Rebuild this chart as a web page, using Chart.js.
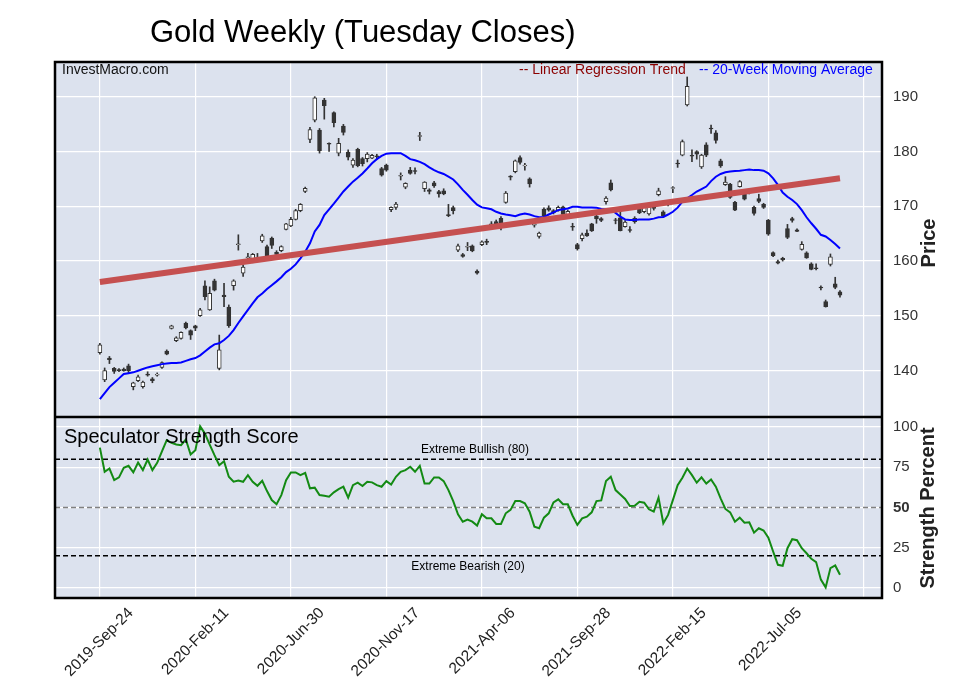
<!DOCTYPE html>
<html>
<head>
<meta charset="utf-8">
<script src="https://cdn.jsdelivr.net/npm/chart.js@4.4.1/dist/chart.umd.min.js"></script>
<style>
  html, body { margin: 0; padding: 0; background: #fff; }
  canvas { display: block; }
</style>
</head>
<body>
<canvas id="goldChart" width="957" height="694"></canvas>
<script>
// x tick labels, one every 20 weekly points
const tickLabels = ['2019-Sep-24', '2020-Feb-11', '2020-Jun-30', '2020-Nov-17',
  '2021-Apr-06', '2021-Sep-28', '2022-Feb-15', '2022-Jul-05', ''];
const priceTicks = [140, 150, 160, 170, 180, 190];
const strengthTicks = [0, 25, 50, 75, 100];
const extremeLevels = [80, 50, 20];

// weekly candles (Tuesday closes)
const opens = [143.3,138.3,142.3,140.45,140.2,140.3,140.9,137.1,138.2,137.1,139.4,138.5,139.2,140.6,143.6,147.7,145.5,145.9,148.7,147.3,
  148.2,150.05,155.5,151.1,156.4,140.4,153.8,151.6,155.5,163.0,157.8,160.6,159.9,160.4,163.7,162.65,164.2,161.6,161.9,165.8,
  166.4,167.6,169.2,172.7,182.2,185.7,183.9,189.4,181.5,187.1,179.7,184.65,179.9,177.5,180.4,178.7,178.7,178.8,179.2,176.9,
  177.5,169.4,169.8,175.5,173.5,176.6,176.5,182.75,173.2,173.0,174.3,172.7,172.8,168.5,169.75,162.0,161.2,162.55,162.8,158.2,
  163.0,163.6,166.2,167.2,167.8,170.7,175.5,176.3,178.9,177.35,175.0,166.55,164.5,169.5,169.7,169.2,169.3,169.9,168.4,166.35,
  163.0,164.1,165.1,166.8,168.2,167.75,170.85,174.3,167.55,167.9,166.3,165.75,167.8,169.5,169.0,168.6,169.9,172.1,169.0,170.55,
  173.25,177.9,179.35,188.5,179.3,180.0,177.2,181.2,184.25,183.4,178.3,173.95,174.05,170.7,173.6,172.5,172.4,169.8,171.4,170.35,
  167.5,161.55,159.9,160.5,165.95,167.75,165.7,162.15,161.5,159.5,158.75,155.25,152.6,159.4,155.85,154.4];
const highs = [145.0,140.5,142.6,140.6,140.4,140.5,141.2,137.9,139.2,138.1,139.8,138.75,139.6,141.6,143.8,148.3,146.2,147.1,148.85,147.45,
  148.3,151.4,156.4,155.3,156.7,146.5,155.95,152.0,156.6,164.8,159.3,161.4,161.4,161.4,164.9,162.9,164.4,161.9,162.8,166.9,
  168.0,169.45,170.5,173.5,184.4,190.0,184.2,189.7,181.6,187.25,182.4,184.95,180.3,178.7,180.6,178.9,179.8,179.5,179.5,177.1,
  177.7,169.9,170.7,176.1,174.3,177.1,177.0,183.5,174.5,173.2,174.55,172.9,173.2,170.35,170.05,163.1,161.4,163.4,162.95,158.4,
  163.7,164.0,167.2,167.5,168.1,172.7,175.6,178.45,179.2,177.85,175.2,167.2,165.3,169.7,170.1,169.4,170.05,170.05,169.3,166.9,
  163.25,165.1,165.7,166.9,168.4,167.95,171.75,174.8,167.8,169.3,167.4,166.3,168.1,169.7,170.05,170.25,170.25,173.3,169.2,170.85,
  173.6,178.45,182.1,193.6,180.3,180.15,179.5,181.6,184.8,183.8,178.6,175.4,174.2,170.9,174.7,172.8,173.1,170.05,172.2,170.55,
  167.6,161.7,160.2,160.7,166.7,168.0,165.9,163.55,161.7,159.7,159.5,155.5,152.9,161.3,157.05,154.6];
const lows = [143.0,138.0,141.3,139.5,139.8,139.9,139.5,136.5,138.0,136.8,139.0,137.8,139.0,140.4,142.9,147.6,145.3,145.75,147.6,145.7,
  147.3,149.9,152.9,151.0,154.55,140.15,151.7,147.9,154.7,162.0,157.2,159.6,159.7,159.9,163.4,160.8,162.3,160.95,161.7,165.7,
  166.3,167.5,169.0,172.5,181.6,185.4,179.7,185.9,180.0,184.5,179.2,183.0,178.45,177.1,177.2,177.35,178.1,178.7,178.6,175.5,
  176.4,169.0,169.45,174.8,173.2,175.85,175.9,182.0,172.7,172.25,173.45,171.65,172.1,168.1,168.6,161.7,160.7,161.9,161.7,157.6,
  162.8,163.0,165.9,166.4,165.7,170.55,174.8,176.1,177.7,176.6,173.5,166.2,164.2,168.1,169.1,168.6,169.1,168.1,167.8,165.6,
  162.0,163.7,164.5,165.4,166.9,167.2,170.4,172.8,166.8,165.5,166.2,165.3,166.9,168.65,168.8,168.4,169.3,171.9,168.0,170.05,
  172.5,177.1,179.2,188.3,178.15,178.6,176.9,179.05,183.3,181.5,177.1,173.8,171.45,169.2,173.5,171.15,172.25,168.4,170.65,169.6,
  164.7,160.8,159.5,160.0,164.1,167.1,165.35,162.0,160.5,158.4,158.4,154.75,151.6,159.1,154.95,153.4];
const closes = [144.7,140.0,142.0,139.85,140.0,140.0,140.0,137.8,138.9,137.9,139.2,138.2,139.35,141.5,143.0,148.2,146.0,147.0,147.8,146.5,
  147.75,151.1,153.5,154.1,154.7,143.8,153.5,148.2,156.4,163.15,158.9,160.8,161.25,160.55,164.6,161.0,162.85,161.2,162.65,166.8,
  167.6,169.2,170.35,173.3,184.0,189.8,180.15,188.35,181.35,185.25,181.5,183.5,178.95,178.45,177.4,177.8,179.55,179.3,179.05,175.7,
  176.6,169.8,170.4,175.65,174.2,176.0,176.35,182.9,174.4,172.7,173.7,172.25,172.25,168.3,169.2,162.8,160.85,162.7,161.85,157.8,
  163.5,163.4,166.8,166.8,166.8,172.4,175.3,178.3,178.0,177.5,174.1,166.7,165.1,168.2,169.3,168.8,169.8,168.5,169.1,166.2,
  162.2,164.8,164.6,165.5,167.7,167.4,171.5,173.0,167.4,165.55,167.1,165.6,167.2,168.8,169.8,170.05,169.6,172.8,168.2,170.4,
  173.4,177.75,181.8,191.9,179.15,179.5,179.35,179.35,184.1,182.0,177.35,174.4,171.6,169.3,174.5,171.3,172.85,168.7,170.9,169.8,
  164.9,161.0,159.6,160.2,164.3,167.4,165.4,163.05,160.6,158.5,158.6,155.1,151.7,160.8,155.2,153.8];

// 20-week moving average as plotted
const movingAvg = [134.8,135.9,137.0,137.8,138.6,139.4,139.55,139.7,140.0,140.3,140.6,140.8,141.0,141.2,141.3,141.4,141.4,141.5,141.8,142.1,
  142.3,142.8,143.5,144.2,144.8,145.0,145.6,146.35,147.4,148.7,149.9,151.1,152.3,153.4,154.1,154.9,155.6,156.3,157.05,158.0,
  158.6,159.4,160.5,161.7,163.25,165.4,166.6,168.4,169.45,170.5,171.6,172.7,173.6,174.5,175.2,176.0,176.9,177.85,178.6,179.2,
  179.6,179.7,179.7,179.7,179.2,178.6,178.4,178.1,177.7,177.1,176.6,176.2,175.9,175.4,174.9,174.0,173.0,172.1,171.15,170.3,
  169.8,169.65,169.45,169.0,168.7,168.5,168.35,168.2,168.5,168.7,168.5,168.2,168.0,168.05,168.5,168.9,169.3,169.45,169.6,169.9,
  169.9,169.8,169.8,169.8,169.75,169.5,169.4,169.3,168.8,168.1,167.6,167.5,167.5,167.6,167.6,167.6,167.75,168.0,168.05,168.5,
  169.0,169.75,170.85,171.45,172.05,172.7,173.15,173.6,174.6,175.4,175.9,176.2,176.35,176.45,176.5,176.6,176.7,176.6,176.6,176.5,
  176.0,175.1,173.9,172.5,171.75,171.15,170.4,169.3,168.0,166.9,165.9,164.8,164.5,163.85,163.1,162.3];

// linear regression trend, first and last week
const trendStart = 156.2;
const trendEnd = 175.1;

// speculator strength score (percent)
const strength = [87.2,72.2,74.2,67.0,68.7,74.6,75.9,71.8,77.9,73.2,79.8,73.2,77.7,84.9,91.8,90.1,89.1,88.7,92.2,82.9,
  85.6,100.4,95.9,89.1,82.5,76.3,78.8,69.1,66.0,66.8,66.0,70.1,66.0,63.5,66.6,60.2,54.6,52.0,57.7,67.0,
  71.8,71.8,70.1,71.5,61.9,62.3,57.7,57.3,56.7,59.4,61.4,62.9,56.1,63.9,65.4,63.3,66.0,65.6,63.9,62.9,
  66.4,64.3,69.1,72.2,73.2,75.3,72.2,75.9,64.9,64.9,68.7,68.7,66.4,60.8,54.0,45.8,41.2,42.5,41.2,38.8,
  45.8,43.3,43.3,39.8,39.8,46.4,48.5,54.0,54.0,52.6,47.4,38.1,37.1,43.7,46.4,53.2,55.1,52.0,52.0,44.9,
  39.2,43.3,44.3,47.0,54.0,54.4,66.4,69.1,60.8,58.1,55.3,50.9,51.1,53.6,53.0,48.9,47.4,56.1,40.2,45.4,
  54.6,63.9,68.5,74.2,70.1,65.4,68.7,64.9,67.4,62.9,55.7,49.1,47.0,41.2,43.7,40.6,40.8,34.4,37.1,35.7,
  31.3,22.7,14.4,13.8,24.7,30.3,29.7,24.7,21.6,18.1,16.1,5.2,0.4,12.4,14.0,8.2];

const FONT = '"Liberation Sans", Arial, sans-serif';
const PANEL_BG = '#dce2ee';
const UP_FILL = '#ffffff';
const DOWN_FILL = '#333333';
const lastIdx = closes.length - 1;

const wickData = highs.map((h, i) => ({x: i, y: [lows[i], h]}));
const bodyData = opens.map((o, i) => ({x: i, y: [o, closes[i]]}));
const bodyColors = opens.map((o, i) => closes[i] >= o ? UP_FILL : DOWN_FILL);

const panelPlugin = {
  id: 'panels',
  beforeDraw(chart) {
    const {ctx, chartArea: a} = chart;
    ctx.save();
    ctx.fillStyle = PANEL_BG;
    ctx.fillRect(a.left, a.top, a.right - a.left, a.bottom - a.top);
    ctx.restore();
  },
  beforeDatasetsDraw(chart) {
    const {ctx, chartArea: a} = chart;
    const y2 = chart.scales.y2;
    ctx.save();
    ctx.lineWidth = 1.6;
    ctx.setLineDash([5, 3]);
    extremeLevels.forEach(v => {
      const py = y2.getPixelForValue(v);
      ctx.strokeStyle = v === 50 ? '#808080' : '#000';
      ctx.beginPath();
      ctx.moveTo(a.left, py);
      ctx.lineTo(a.right, py);
      ctx.stroke();
    });
    ctx.restore();
  },
  afterDraw(chart) {
    const {ctx, chartArea: a} = chart;
    const y2 = chart.scales.y2;
    ctx.save();
    // frame around both panels
    ctx.strokeStyle = '#000';
    ctx.lineWidth = 2.5;
    ctx.strokeRect(a.left, a.top, a.right - a.left, a.bottom - a.top);
    ctx.beginPath();
    ctx.moveTo(a.left, y2.top);
    ctx.lineTo(a.right, y2.top);
    ctx.stroke();

    // title
    ctx.fillStyle = '#000';
    ctx.textBaseline = 'alphabetic';
    ctx.font = '31px ' + FONT;
    ctx.fillText('Gold Weekly (Tuesday Closes)', 150, 42);

    ctx.textBaseline = 'middle';
    ctx.font = '14px ' + FONT;
    ctx.fillStyle = '#111';
    ctx.fillText('InvestMacro.com', 62, 70);
    ctx.fillStyle = '#8b0000';
    ctx.fillText('-- Linear Regression Trend', 519, 70);
    ctx.fillStyle = '#0000ff';
    ctx.fillText('-- 20-Week Moving Average', 699, 70);

    ctx.fillStyle = '#000';
    ctx.font = '20px ' + FONT;
    ctx.fillText('Speculator Strength Score', 64, 437);

    ctx.font = '12px ' + FONT;
    ctx.textAlign = 'center';
    ctx.fillText('Extreme Bullish (80)', 475, y2.getPixelForValue(80) - 10);
    ctx.fillText('Extreme Bearish (20)', 468, y2.getPixelForValue(20) + 11);

    // axis titles, reading bottom to top
    ctx.font = 'bold 20px ' + FONT;
    ctx.fillStyle = '#222';
    [['Price', 929, 243], ['Strength Percent', 928, 508]].forEach(([t, x, y]) => {
      ctx.save();
      ctx.translate(x, y);
      ctx.rotate(-Math.PI / 2);
      ctx.fillText(t, 0, 0);
      ctx.restore();
    });
    ctx.restore();
  }
};

new Chart(document.getElementById('goldChart'), {
  data: {
    datasets: [
      {
        type: 'line',
        label: 'Linear Regression Trend',
        data: [{x: 0, y: trendStart}, {x: lastIdx, y: trendEnd}],
        yAxisID: 'y',
        borderColor: '#c55050',
        borderWidth: 6,
        borderCapStyle: 'butt',
        pointRadius: 0,
        order: 0
      },
      {
        type: 'line',
        label: '20-Week Moving Average',
        data: movingAvg.map((v, i) => ({x: i, y: v})),
        yAxisID: 'y',
        borderColor: '#0000ff',
        borderWidth: 2,
        pointRadius: 0,
        order: 1
      },
      {
        type: 'bar',
        label: 'body',
        data: bodyData,
        yAxisID: 'y',
        backgroundColor: bodyColors,
        borderColor: '#333',
        borderWidth: 1,
        borderSkipped: false,
        barThickness: 4,
        grouped: false,
        order: 2
      },
      {
        type: 'bar',
        label: 'wick',
        data: wickData,
        yAxisID: 'y',
        backgroundColor: '#333',
        borderWidth: 0,
        barThickness: 1,
        grouped: false,
        order: 3
      },
      {
        type: 'line',
        label: 'Speculator Strength Score',
        data: strength.map((v, i) => ({x: i, y: v})),
        yAxisID: 'y2',
        borderColor: '#138a13',
        borderWidth: 2,
        pointRadius: 0,
        order: 0
      }
    ]
  },
  options: {
    responsive: false,
    animation: false,
    layout: { padding: { left: 55, top: 62, right: 0, bottom: 0 } },
    plugins: {
      legend: { display: false },
      tooltip: { enabled: false }
    },
    scales: {
      x: {
        type: 'linear',
        offset: false,
        min: -9.4,
        max: 163.8,
        afterBuildTicks: s => { s.ticks = tickLabels.map((t, k) => ({value: k * 20})); },
        afterFit: s => { s.height = 96; },
        grid: { color: '#ffffff', lineWidth: 1.2, drawTicks: false, offset: false },
        border: { display: false },
        ticks: {
          autoSkip: false,
          maxRotation: 45,
          minRotation: 45,
          labelOffset: 31,
          padding: 6,
          color: '#222',
          font: { family: FONT, size: 15.5 },
          callback: v => tickLabels[Math.round(v / 20)] || ''
        }
      },
      y: {
        type: 'linear',
        position: 'right',
        stack: 'panels',
        stackWeight: 355,
        min: 131.55,
        max: 196.33,
        afterBuildTicks: s => { s.ticks = priceTicks.map(v => ({value: v})); },
        afterFit: s => { s.width = 75; },
        grid: { color: '#ffffff', lineWidth: 1.2, drawTicks: false },
        border: { display: false },
        ticks: { padding: 11, color: '#333', font: { family: FONT, size: 15 } }
      },
      y2: {
        type: 'linear',
        position: 'right',
        stack: 'panels',
        stackWeight: 181,
        min: -6.2,
        max: 106.2,
        afterBuildTicks: s => { s.ticks = strengthTicks.map(v => ({value: v})); },
        afterFit: s => { s.width = 75; },
        grid: { color: '#ffffff', lineWidth: 1.2, drawTicks: false },
        border: { display: false },
        ticks: {
          padding: 11,
          color: '#333',
          font: c => ({ family: FONT, size: 15, weight: c.tick && c.tick.value === 50 ? 'bold' : 'normal' })
        }
      }
    }
  },
  plugins: [panelPlugin]
});
</script>
</body>
</html>
